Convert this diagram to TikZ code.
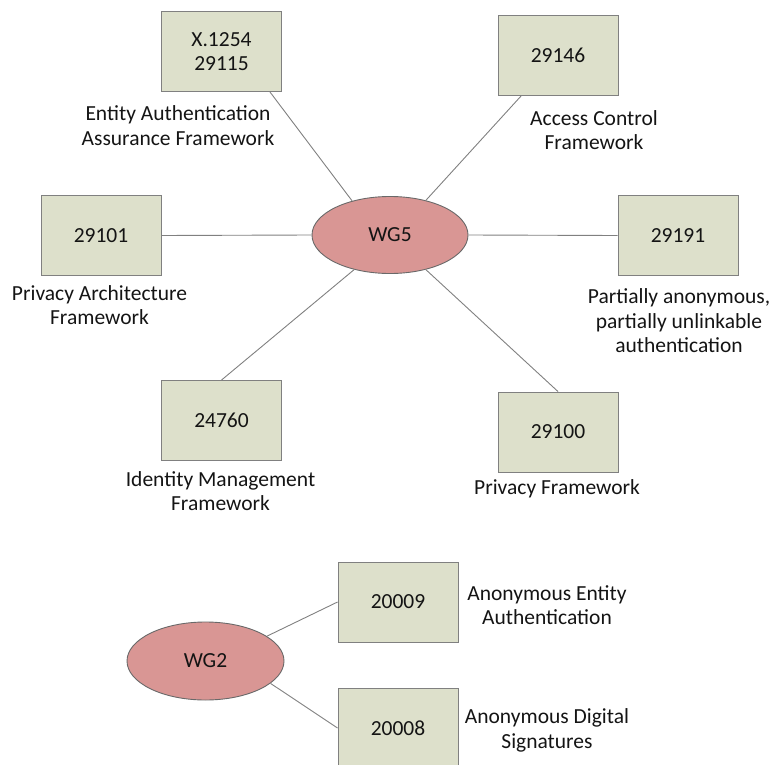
\documentclass[tikz,border=0pt]{standalone}
\usepackage{fontspec}
\setmainfont{Carlito}
\usetikzlibrary{shapes.geometric}
\definecolor{boxfill}{RGB}{221,224,203}
\definecolor{boxline}{RGB}{128,128,128}
\definecolor{ellfill}{RGB}{217,150,148}
\definecolor{ellline}{RGB}{105,105,105}
\definecolor{conline}{RGB}{128,128,128}
\definecolor{txt}{RGB}{20,20,20}
\tikzset{
  stdbox/.style={draw=boxline, fill=boxfill, line width=0.9pt, minimum width=120pt, minimum height=80pt, inner sep=0pt, align=center, text=txt, font=\fontsize{21.5}{24}\selectfont},
  wgell/.style={ellipse, draw=ellline, fill=ellfill, line width=0.9pt, minimum width=156pt, minimum height=77pt, inner sep=0pt, text=txt, font=\fontsize{21.5}{24}\selectfont},
  lbl/.style={inner sep=0pt, align=center, text=txt, font=\fontsize{21.5}{24.5}\selectfont},
  con/.style={draw=conline, line width=0.9pt}
}
\begin{document}
\begin{tikzpicture}[x=1pt, y=-1pt]
\useasboundingbox (0,0) rectangle (771,765);
\clip (0,0) rectangle (771,765);
% WG5 cluster
\node[wgell] (wg5) at (390,235) {WG5};
\node[stdbox] (b1254) at (221.5,51.5) {X.1254\\29115};
\node[stdbox] (b29146) at (558,55) {29146};
\node[stdbox] (b29101) at (101,235.5) {29101};
\node[stdbox] (b29191) at (678,235.5) {29191};
\node[stdbox] (b24760) at (221.5,420.5) {24760};
\node[stdbox] (b29100) at (558,432) {29100};
% labels
\node[lbl] (l1254) at (178,125.5) {Entity Authentication\\Assurance Framework};
\node[lbl] (l29146) at (594,130) {Access Control\\Framework};
\node[lbl] (l29101) at (99.5,305) {Privacy Architecture\\Framework};
\node[lbl] (l29191) at (679,321) {Partially anonymous,\\partially unlinkable\\authentication};
\node[lbl] (l24760) at (220.5,491) {Identity Management\\Framework};
\node[lbl] (l29100) at (557,489) {Privacy Framework};
% connectors
\draw[con] (wg5.138) -- ([xshift=-12pt]b1254.south east);
\draw[con] (wg5.44) -- ([xshift=24pt]b29146.south west);
\draw[con] (wg5.west) -- (b29101.east);
\draw[con] (wg5.east) -- (b29191.west);
\draw[con] (wg5.224) -- (b24760.north);
\draw[con] (wg5.316) -- (b29100.north);
% WG2 cluster
\node[wgell, minimum width=157pt, minimum height=78pt] (wg2) at (205.5,661) {WG2};
\node[stdbox] (b20009) at (398,602) {20009};
\node[stdbox] (b20008) at (398,728) {20008};
\node[lbl] (l20009) at (547,605) {Anonymous Entity\\Authentication};
\node[lbl] (l20008) at (547,730.5) {Anonymous Digital\\Signatures};
\draw[con] (wg2.22) -- (b20009.west);
\draw[con] (wg2.-19) -- (b20008.west);
\end{tikzpicture}
\end{document}
